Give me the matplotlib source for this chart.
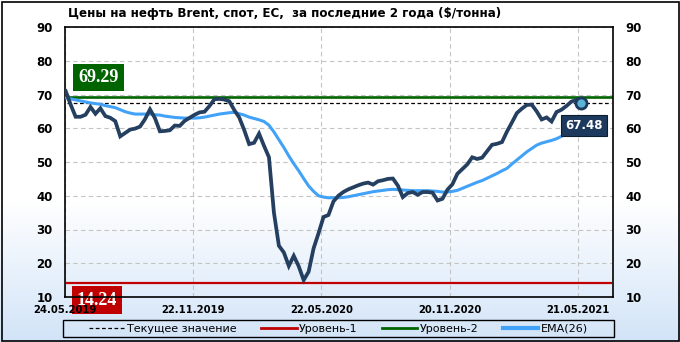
import numpy as np
import pandas as pd
import matplotlib
matplotlib.use("Agg")
import matplotlib.pyplot as plt
import matplotlib.dates as mdates
from matplotlib.patches import Rectangle
from matplotlib.lines import Line2D

# -------- DATA --------
PRICE = [
    71.0, 67.0, 63.4, 63.4, 64.0, 66.3, 64.3, 65.9, 63.6, 63.1,
    62.1, 57.6, 58.6, 59.6, 59.9, 60.5, 62.7, 65.6, 63.0, 59.1,
    59.2, 59.4, 60.8, 60.7, 62.2, 63.1, 64.0, 64.7, 64.9, 66.6,
    68.6, 68.7, 68.5, 68.0, 65.4, 63.2, 59.5, 55.3, 55.7, 58.4,
    54.8, 51.4, 35.0, 25.2, 23.2, 19.2, 22.2, 19.1, 15.0, 17.5,
    24.4, 28.9, 33.7, 34.3, 38.3, 40.0, 41.1, 41.9, 42.5, 43.1,
    43.6, 43.9, 43.3, 44.3, 44.6, 45.0, 45.1, 43.0, 39.6, 40.8,
    41.1, 40.3, 41.1, 41.1, 40.9, 38.6, 39.1, 41.8, 43.4, 46.5,
    47.9, 49.3, 51.4, 50.9, 51.3, 53.2, 55.1, 55.4, 55.9, 59.0,
    61.7, 64.5, 65.8, 66.9, 67.0, 65.0, 62.6, 63.2, 62.0, 64.8,
    65.5, 66.6, 67.9, 68.4, 67.48,
]
EMA26 = [
    69.0, 68.7, 68.4, 68.1, 67.8, 67.5, 67.3, 67.1, 66.7, 66.4,
    66.1, 65.5, 64.9, 64.5, 64.2, 64.2, 64.2, 64.2, 64.0, 63.9,
    63.6, 63.4, 63.2, 63.1, 63.0, 63.0, 63.0, 63.1, 63.3, 63.6,
    63.9, 64.2, 64.4, 64.6, 64.7, 64.3, 63.9, 63.3, 62.9, 62.5,
    62.0, 60.9, 58.9, 56.6, 54.3, 51.8, 49.5, 47.4, 45.1, 42.9,
    41.3, 40.0, 39.6, 39.4, 39.4, 39.4, 39.5, 39.7, 40.0, 40.3,
    40.6, 40.9, 41.2, 41.4, 41.6, 41.8, 41.9, 41.8, 41.7, 41.6,
    41.5, 41.5, 41.5, 41.5, 41.4, 41.3, 41.1, 41.1, 41.3, 41.6,
    42.2, 42.8, 43.4, 44.0, 44.5, 45.2, 45.9, 46.6, 47.4, 48.1,
    49.4, 50.6, 51.8, 53.0, 54.0, 55.0, 55.6, 56.0, 56.4, 56.9,
    57.6, 58.3, 59.0, 59.5, 60.0,
]
DATES = pd.date_range("2019-05-25", "2021-05-26", periods=len(PRICE))

CURRENT = 67.48
LEVEL_1 = 14.24
LEVEL_2 = 69.29

TICK_DATES = pd.to_datetime(["2019-05-24", "2019-11-22", "2020-05-22",
                             "2020-11-20", "2021-05-21"])
Y_TICKS = [10, 20, 30, 40, 50, 60, 70, 80, 90]

TITLE = "Цены на нефть Brent, спот, ЕС,  за последние 2 года ($/тонна)"
LEGEND_LABELS = ["Текущее значение", "Уровень-1", "Уровень-2", "EMA(26)"]

# -------- STYLE --------
W, H = 680, 342
C_PRICE = "#243f60"
C_EMA = "#42a2f7"
C_RED = "#c00000"
C_GREEN = "#006400"
C_NAVY = "#1d3a5e"

plt.rcParams["font.family"] = ["DejaVu Sans"]

fig = plt.figure(figsize=(W / 100, H / 100), dpi=100)

# background gradient (white -> light blue)
bg = fig.add_axes([0, 0, 1, 1], zorder=-10)
bg.axis("off")
rows = np.arange(H)
stops_y = [0, 200, H - 1]
top = np.array([255, 255, 255]) / 255
bot = np.array([0xd2, 0xe4, 0xf8]) / 255
grad = np.zeros((H, 1, 3))
for c in range(3):
    grad[:, 0, c] = np.interp(rows, stops_y, [top[c], top[c], bot[c]])
bg.imshow(grad, aspect="auto", extent=[0, 1, 0, 1])
bg.set_xlim(0, 1)
bg.set_ylim(0, 1)

ax = fig.add_axes([65 / W, 45 / H, 548 / W, 270 / H])
ax.set_facecolor("none")

ax.plot(DATES, EMA26, color=C_EMA, lw=2.2, zorder=3, solid_capstyle="round")
ax.plot(DATES, PRICE, color=C_PRICE, lw=2.7, zorder=4, solid_joinstyle="miter")

ax.axhline(LEVEL_2, xmin=0.004, xmax=0.996, color=C_GREEN, lw=1.9, zorder=2)
ax.axhline(LEVEL_1, xmin=0.004, xmax=0.996, color=C_RED, lw=1.6, zorder=2)
ax.axhline(CURRENT, xmin=0.004, xmax=0.996, color="black", lw=0.9,
           dashes=(3, 2), zorder=2)

ax.plot(DATES[-1], PRICE[-1], "o", ms=8, mfc="#5bb3d6", mec=C_NAVY,
        mew=2, zorder=6)

ax.annotate(f"{CURRENT:.2f}", xy=(DATES[-1], PRICE[-1]), xytext=(2, -16),
            textcoords="offset points", ha="center", va="center",
            color="white", fontsize=8.5, fontweight="bold", zorder=7,
            bbox=dict(boxstyle="square,pad=0.35", fc=C_NAVY, ec="#0d1d30", lw=0.8))
ax.annotate(f"{LEVEL_2:.2f}", xy=(0, LEVEL_2), xycoords=("axes fraction", "data"),
            xytext=(24, 14), textcoords="offset points", ha="center", va="center",
            color="white", fontsize=13, fontweight="bold", family="Liberation Serif",
            zorder=7, bbox=dict(boxstyle="square,pad=0.28", fc=C_GREEN, ec="none"))
ax.annotate(f"{LEVEL_1:.2f}", xy=(0, LEVEL_1), xycoords=("axes fraction", "data"),
            xytext=(23, -12.5), textcoords="offset points", ha="center", va="center",
            color="white", fontsize=13, fontweight="bold", family="Liberation Serif",
            zorder=1, annotation_clip=False,
            bbox=dict(boxstyle="square,pad=0.28", fc=C_RED, ec="none"))

ax.set_xlim(pd.Timestamp("2019-05-24"), pd.Timestamp("2021-07-10"))
ax.set_ylim(10, 90)
ax.set_yticks(Y_TICKS)
ax.set_xticks(TICK_DATES)
ax.xaxis.set_major_formatter(mdates.DateFormatter("%d.%m.%Y"))

ax.grid(True, color="#c4c4c4", lw=0.8, linestyle=(0, (4, 3)))
ax.tick_params(axis="y", length=0, pad=9, labelsize=8.5, labelright=True,
               right=False)
ax.tick_params(axis="x", length=0, pad=6, labelsize=7.2)
for lab in ax.get_xticklabels() + ax.get_yticklabels():
    lab.set_fontweight("bold")
for t in ax.yaxis.get_major_ticks():
    t.label2.set_fontweight("bold")
for sp in ax.spines.values():
    sp.set_color("black")
    sp.set_linewidth(1.2)

fig.text(68 / W, 1 - 13 / H, TITLE, ha="left", va="center",
         fontsize=8.6, fontweight="bold")

# legend
handles = [
    Line2D([], [], color="black", lw=0.9, dashes=(3, 2)),
    Line2D([], [], color=C_RED, lw=2),
    Line2D([], [], color=C_GREEN, lw=2),
    Line2D([], [], color=C_EMA, lw=3),
]
fig.legend(handles, LEGEND_LABELS, loc="center", ncol=4, frameon=False,
           bbox_to_anchor=((63 + 614) / 2 / W, 1 - 328.5 / H),
           fontsize=8, handlelength=3.2, handletextpad=0.2, columnspacing=2.2)
fig.patches.append(Rectangle((63 / W, 1 - 337 / H), 551 / W, 17 / H,
                             transform=fig.transFigure, fill=False,
                             ec="black", lw=1))
fig.patches.append(Rectangle((1.5 / W, 1.5 / H), (W - 3) / W, (H - 3) / H,
                             transform=fig.transFigure, fill=False,
                             ec="black", lw=1.2))

fig.savefig("out.png", dpi=100)
